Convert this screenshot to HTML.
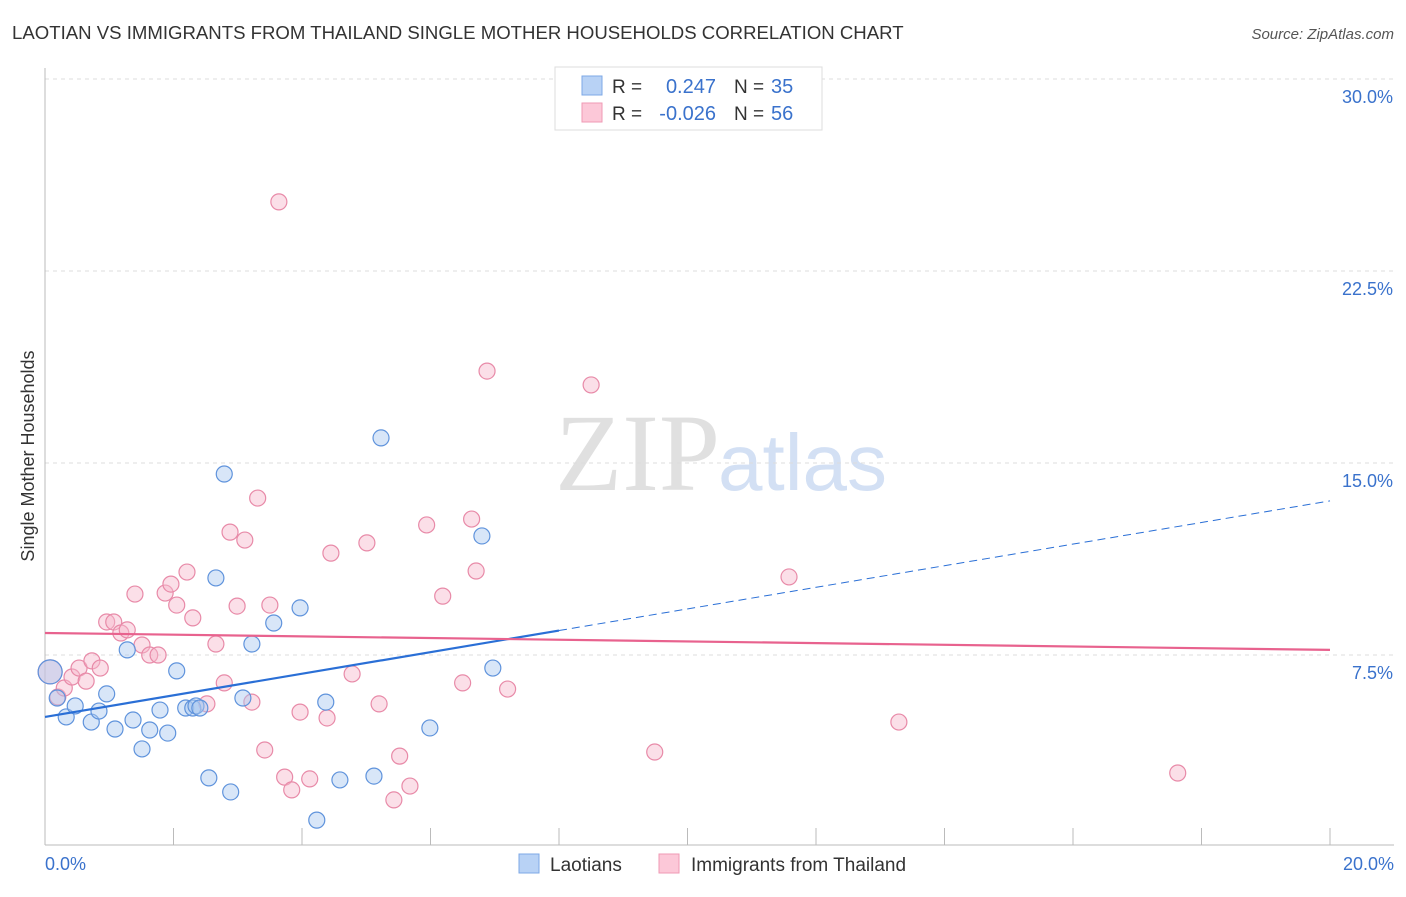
<!DOCTYPE html>
<html><head><meta charset="utf-8"><style>
body{margin:0;background:#fff;font-family:"Liberation Sans",sans-serif}
</style></head><body>
<svg id="c" width="1406" height="892" xmlns="http://www.w3.org/2000/svg">
<text x="12" y="39" font-size="18.6" fill="#333">LAOTIAN VS IMMIGRANTS FROM THAILAND SINGLE MOTHER HOUSEHOLDS CORRELATION CHART</text>
<text x="1394" y="39" font-size="15" fill="#555" font-style="italic" text-anchor="end">Source: ZipAtlas.com</text>
<text x="555" y="490" font-size="110" fill="#e0e0e0" font-family="Liberation Serif">ZIP</text>
<text x="718" y="490" font-size="80" fill="#d3e0f4">atlas</text>
<text x="34" y="456" font-size="18" fill="#333" text-anchor="middle" transform="rotate(-90 34 456)">Single Mother Households</text>
<g id="grid"></g><g id="marks"></g>
<g>
<rect x="555" y="67" width="267" height="63" fill="#fff" stroke="#ddd"/>
<rect x="582" y="76" width="20" height="19" fill="#b8d2f5" stroke="#7ea8e6"/>
<rect x="582" y="103" width="20" height="19" fill="#fcc8d8" stroke="#ef9ab4"/>
<text x="612" y="93" font-size="19" fill="#333">R = </text><text x="716" y="93" font-size="20" fill="#3a72cc" text-anchor="end">0.247</text>
<text x="734" y="93" font-size="19" fill="#333">N = </text><text x="771" y="93" font-size="20" fill="#3a72cc">35</text>
<text x="612" y="120" font-size="19" fill="#333">R = </text><text x="716" y="120" font-size="20" fill="#3a72cc" text-anchor="end">-0.026</text>
<text x="734" y="120" font-size="19" fill="#333">N = </text><text x="771" y="120" font-size="20" fill="#3a72cc">56</text>
</g>
<g>
<rect x="519" y="854" width="20" height="19" fill="#b8d2f5" stroke="#7ea8e6"/>
<text x="550" y="871" font-size="19" fill="#333">Laotians</text>
<rect x="659" y="854" width="20" height="19" fill="#fcc8d8" stroke="#ef9ab4"/>
<text x="691" y="871" font-size="19" fill="#333">Immigrants from Thailand</text>
</g>
</svg>
<script>
const xTicks=[0,2,4,6,8,10,12,14,16,18,20];
const yTicks=[7.5,15,22.5,30];
const yTickLabels=["7.5%","15.0%","22.5%","30.0%"];
const laoX=[0.08,0.19,0.33,0.47,0.72,0.84,0.96,1.09,1.28,1.37,1.51,1.63,1.79,1.91,2.05,2.19,2.30,2.35,2.41,2.55,2.66,2.79,2.89,3.08,3.22,3.56,3.97,4.23,4.37,4.59,5.12,5.23,5.99,6.80,6.97];
const laoY=[6.84,5.82,5.08,5.51,4.88,5.31,5.98,4.61,7.70,4.96,3.83,4.57,5.35,4.45,6.88,5.43,5.43,5.51,5.43,2.70,10.51,14.57,2.15,5.82,7.93,8.75,9.34,1.05,5.66,2.62,2.77,15.98,4.65,12.15,6.99];
const thX=[0.08,0.20,0.30,0.42,0.53,0.64,0.73,0.86,0.96,1.07,1.18,1.28,1.40,1.51,1.63,1.76,1.87,1.96,2.05,2.21,2.30,2.52,2.66,2.79,2.88,2.99,3.11,3.22,3.31,3.42,3.50,3.64,3.73,3.84,3.97,4.12,4.39,4.45,4.78,5.01,5.20,5.43,5.52,5.68,5.94,6.19,6.50,6.64,6.71,6.88,7.20,8.50,9.49,11.58,13.29,17.63];
const thY=[6.84,5.86,6.21,6.64,6.99,6.48,7.27,6.99,8.79,8.79,8.36,8.48,9.88,7.89,7.50,7.50,9.92,10.27,9.45,10.74,8.95,5.59,7.93,6.41,12.30,9.41,11.99,5.66,13.63,3.79,9.45,25.20,2.73,2.23,5.27,2.66,5.04,11.48,6.76,11.88,5.59,1.84,3.55,2.38,12.58,9.80,6.41,12.81,10.78,18.59,6.17,18.05,3.71,10.55,4.88,2.89];
const laoTrend=[5.08,13.52];
const thTrend=[8.36,7.70];
const X=v=>45+v/20*1285, Y=v=>847-v/7.5*192;
const NS="http://www.w3.org/2000/svg";
function mk(p,t,a){const e=document.createElementNS(NS,t);for(const k in a)e.setAttribute(k,a[k]);p.appendChild(e);return e;}
const g=document.getElementById('grid'),m=document.getElementById('marks');
yTicks.forEach((v,i)=>{
 const l=mk(g,'line',{x1:45,x2:1394,y1:Y(v),y2:Y(v),stroke:'#ddd','stroke-dasharray':'4 4'});
 
 
 const t=mk(g,'text',{x:1393,y:Y(v)+24,'font-size':18,fill:'#3a72cc','text-anchor':'end'});t.textContent=yTickLabels[i];
 
 
});
const ax=mk(g,'line',{x1:45,x2:1394,y1:845,y2:845,stroke:'#bbb'});


const ay=mk(g,'line',{x1:45,x2:45,y1:68,y2:845,stroke:'#bbb'});


xTicks.forEach(v=>{const t=mk(g,'line',{x1:X(v),x2:X(v),y1:828,y2:845,stroke:'#bbb'});
 
 });
[[0,'0.0%','start',45],[20,'20.0%','end',1394]].forEach(a=>{const t=mk(g,'text',{x:a[3],y:870,'font-size':18,fill:'#3a72cc','text-anchor':a[2]});t.textContent=a[1];
 
 });
function dots(xs,ys,f,s,n){xs.forEach((x,i)=>{const c=mk(m,'circle',{cx:X(x),cy:Y(ys[i]),r:i==0?12:8,fill:f,stroke:s,'stroke-width':1.2,'fill-opacity':0.45});
 
 });}
dots(thX,thY,'#f7b7cb','#e88aa8','thailand-point');
dots(laoX,laoY,'#a9c8f0','#5f93dc','laotian-point');
const xs=8;
const l1=mk(m,'line',{x1:X(0),y1:Y(laoTrend[0]),x2:X(xs),y2:Y(laoTrend[0]+(laoTrend[1]-laoTrend[0])*xs/20),stroke:'#2a6fd6','stroke-width':2.2});


const l2=mk(m,'line',{x1:X(xs),y1:Y(laoTrend[0]+(laoTrend[1]-laoTrend[0])*xs/20),x2:X(20),y2:Y(laoTrend[1]),stroke:'#2a6fd6','stroke-width':1,'stroke-dasharray':'8 5'});


const l3=mk(m,'line',{x1:X(0),y1:Y(thTrend[0]),x2:X(20),y2:Y(thTrend[1]),stroke:'#e8628e','stroke-width':2.2});


</script>
</body></html>
